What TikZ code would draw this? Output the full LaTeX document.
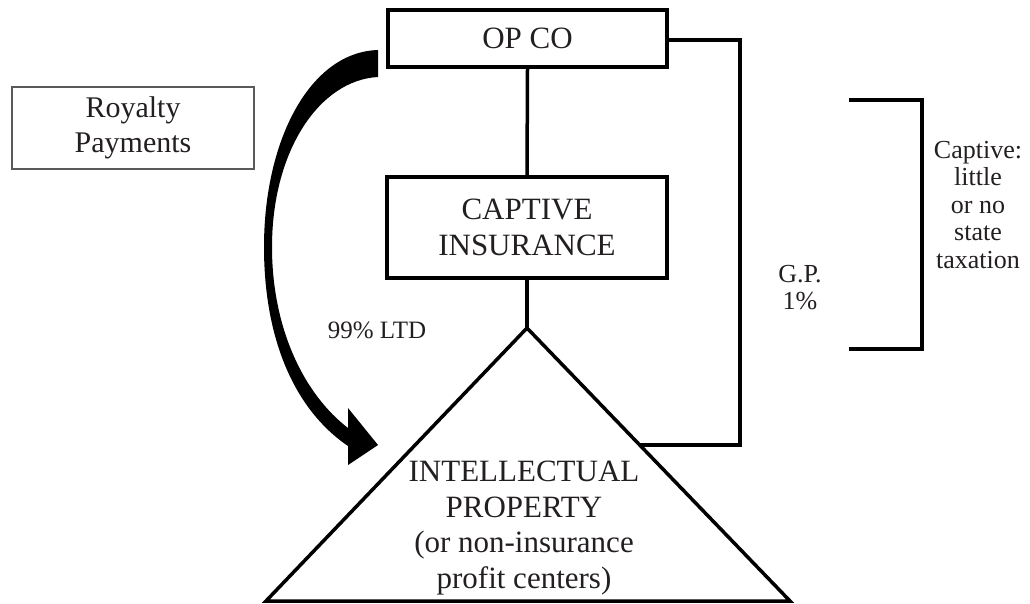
\documentclass[tikz,border=0pt]{standalone}
\usepackage{fontspec}
\setmainfont{Liberation Serif}
\usetikzlibrary{calc}
\definecolor{ink}{HTML}{231F20}
\definecolor{frame}{HTML}{5A5A5A}
\begin{document}
\begin{tikzpicture}[x=1pt,y=-1pt,
  bigtext/.style={font=\fontsize{31}{36}\selectfont, text=ink, align=center},
  smalltext/.style={font=\fontsize{26}{27.5}\selectfont, text=ink, align=center},
  entity/.style={draw=black, line width=3.5pt, inner sep=0pt, bigtext},
  link/.style={draw=black, line width=3.5pt}]
\useasboundingbox (0,0) rectangle (1030,604);

% entities
\node[entity, minimum width=279pt, minimum height=57pt] (opco) at (527.5,38.5) {OP CO};
\node[entity, minimum width=280pt, minimum height=101pt] (captive) at (527,227.5) {CAPTIVE\\INSURANCE};
\node[draw=frame, line width=1.6pt, minimum width=242pt, minimum height=82pt, inner sep=0pt,
      font=\fontsize{30}{35}\selectfont, text=ink, align=center] (royalty) at (133,128) {Royalty\\Payments};

% intellectual property triangle
\coordinate (apex) at (527,328);
\coordinate (bl) at (266,601);
\coordinate (br) at (790,601);
\coordinate (join) at (639,445);
\draw[link, line join=miter] (apex) -- (bl) -- (br) -- cycle;
\node[bigtext, font=\fontsize{31}{35.5}\selectfont] (ip) at (524,528) {INTELLECTUAL\\PROPERTY\\(or non-insurance\\profit centers)};

% ownership links
\draw[link] (opco.south) -- (captive.north);
\draw[link] (captive.south) -- (apex);
\coordinate (gpcorner) at (740,445);
\draw[link, line join=miter] (opco.east |- 0,40) -| (gpcorner) -- (join);

% labels
\node[smalltext] (gp) at (800,287.5) {G.P.\\1\%};
\node[font=\fontsize{25}{30}\selectfont, text=ink] (ltd) at (377,330) {99\% LTD};

% bracket around the captive tier
\coordinate (bt) at (849,100);
\coordinate (bb) at (849,349);
\draw[link, line join=miter] (bt) -- (922,100) -- (922,349) -- (bb);
\node[smalltext] (tax) at (978,205) {Captive:\\little\\or no\\state\\taxation};

% royalty flow arrow
\coordinate (astart) at (378,50);
\coordinate (atip) at (378,445);
\fill[black] (astart) -- (378,77)
  .. controls (320,80) and (272,150) .. (272,247)
  .. controls (272,330) and (305,395) .. (348,428)
  -- (348,408) -- (atip) -- (348,465) -- (348,446)
  .. controls (295,410) and (264,340) .. (264,247)
  .. controls (264,140) and (310,52) .. (astart) -- cycle;
\end{tikzpicture}
\end{document}
